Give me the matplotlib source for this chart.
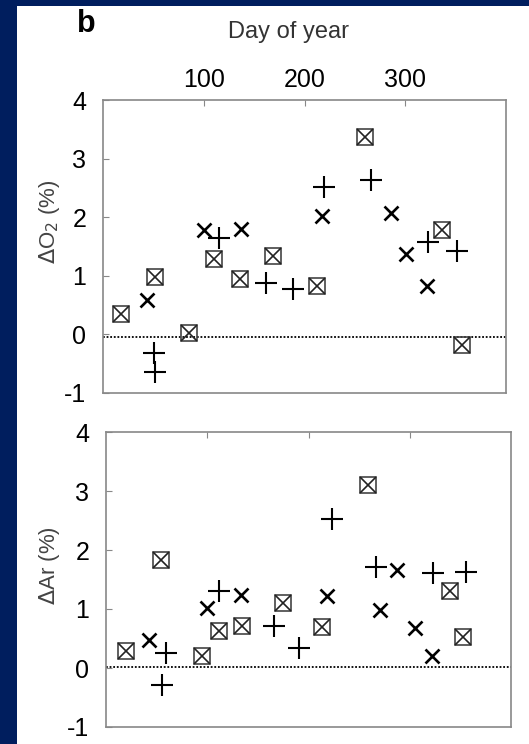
import matplotlib
matplotlib.use('Agg')
import matplotlib.pyplot as plt
from matplotlib.patches import Rectangle

plt.rcParams['font.family'] = ['Liberation Sans', 'DejaVu Sans']
plt.rcParams['axes.unicode_minus'] = False

# Upper panel: delta O2 (%)
o2_box_day = [18, 52, 85, 110, 136, 169, 212, 260, 336, 356]
o2_box_val = [0.35, 0.98, 0.02, 1.29, 0.95, 1.34, 0.83, 3.37, 1.79, -0.18]
o2_plus_day = [51, 52, 115, 162, 189, 219, 266, 323, 351]
o2_plus_val = [-0.32, -0.64, 1.65, 0.88, 0.78, 2.52, 2.63, 1.57, 1.42]
o2_x_day = [44, 100, 137, 217, 286, 301, 322]
o2_x_val = [0.58, 1.79, 1.80, 2.02, 2.08, 1.37, 0.82]

# Lower panel: delta Ar (%)
ar_box_day = [20, 54, 95, 112, 134, 175, 213, 259, 340, 353]
ar_box_val = [0.29, 1.83, 0.21, 0.62, 0.71, 1.10, 0.69, 3.10, 1.31, 0.53]
ar_plus_day = [59, 55, 112, 166, 191, 223, 267, 323, 356]
ar_plus_val = [0.25, -0.29, 1.31, 0.71, 0.34, 2.53, 1.71, 1.61, 1.62]
ar_x_day = [42, 100, 133, 218, 287, 271, 305, 322]
ar_x_val = [0.47, 1.02, 1.23, 1.22, 1.66, 0.99, 0.67, 0.21]

day_ticks = [100, 200, 300]
val_ticks = [-1, 0, 1, 2, 3, 4]

navy = '#001e5e'
fig = plt.figure(figsize=(5.29, 7.44), dpi=100, facecolor=navy)
# white page area behind the plots
fig.patches.append(Rectangle((17 / 529, 0), 1 - 17 / 529, 1 - 6 / 744,
                             transform=fig.transFigure, facecolor='white',
                             edgecolor='none', zorder=-10))

ax1 = fig.add_axes([103 / 529, 1 - 393 / 744, 403 / 529, 293 / 744])
ax2 = fig.add_axes([106 / 529, 1 - 727 / 744, 405 / 529, 295 / 744])


def draw_panel(ax, bd, bv, pd_, pv, xd, xv, zero):
    ax.axhline(zero, color='black', lw=1.3, ls=(0, (1, 1)), zorder=1)
    ax.plot(bd, bv, ls='none', marker='s', ms=12, mfc='none', mec='#444', mew=1.2)
    ax.plot(bd, bv, ls='none', marker='x', ms=12, mec='#222', mew=1.2)
    ax.plot(pd_, pv, ls='none', marker='+', ms=16, mec='black', mew=1.5)
    ax.plot(xd, xv, ls='none', marker='x', ms=10.5, mec='black', mew=1.9)
    ax.set_xlim(0, 400)
    ax.set_ylim(-1, 4)
    ax.set_yticks(val_ticks)
    ax.set_xticks(day_ticks)
    for s in ax.spines.values():
        s.set_color('#888888')
        s.set_linewidth(1.2)
    ax.tick_params(axis='y', direction='in', length=4, pad=12, labelsize=18,
                   color='#888888')
    ax.tick_params(axis='x', direction='in', length=4, top=True, bottom=False,
                   color='#888888')


draw_panel(ax1, o2_box_day, o2_box_val, o2_plus_day, o2_plus_val,
           o2_x_day, o2_x_val, -0.04)
draw_panel(ax2, ar_box_day, ar_box_val, ar_plus_day, ar_plus_val,
           ar_x_day, ar_x_val, 0.02)

ax1.tick_params(axis='x', labeltop=True, labelbottom=False, labelsize=18, pad=6)
ax2.tick_params(axis='x', labeltop=False, labelbottom=False)

fig.text(288 / 529, 1 - 32 / 744, 'Day of year', ha='center', va='center',
         fontsize=17, color='#333333')
fig.text(77 / 529, 1 - 24 / 744, 'b', ha='left', va='center', fontsize=22,
         fontweight='bold')
fig.text(50 / 529, 1 - 222 / 744, r'$\Delta$O$_2$ (%)', rotation=90,
         ha='center', va='center', fontsize=16, color='#444444')
fig.text(50 / 529, 1 - 566 / 744, r'$\Delta$Ar (%)', rotation=90,
         ha='center', va='center', fontsize=16, color='#444444')

fig.savefig('out.png', dpi=100, facecolor=navy)
